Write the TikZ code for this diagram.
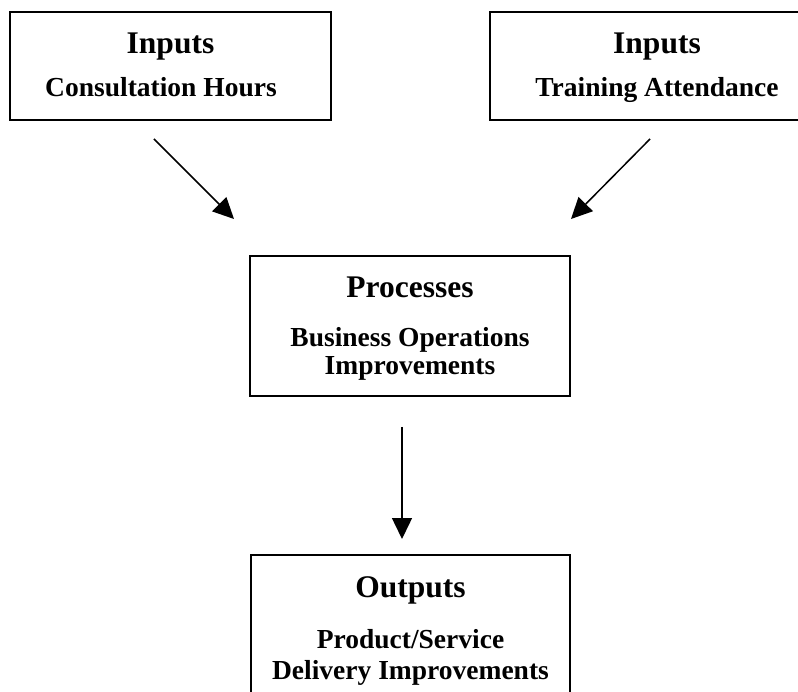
\documentclass[tikz,border=0pt]{standalone}
\usepackage{fontspec}
\setmainfont{Liberation Serif}
\usetikzlibrary{arrows.meta}
\begin{document}
\begin{tikzpicture}[x=1pt,y=-1pt,
  box/.style={draw,line width=1.7pt,rectangle,inner sep=0pt},
  ttl/.style={font=\fontsize{31.5}{36}\selectfont\bfseries,anchor=base,inner sep=0pt},
  sub/.style={font=\fontsize{27.5}{30}\selectfont\bfseries,anchor=base,inner sep=0pt},
  arr/.style={line width=1.5pt,-{Triangle[length=21pt,width=20pt]}}]
\useasboundingbox (0,0) rectangle (798,692);
\clip (0,0) rectangle (798,692);
% boxes
\node[box,minimum width=321pt,minimum height=108pt] (in1) at (170.5,66) {};
\node[box,minimum width=334pt,minimum height=108pt] (in2) at (657,66) {};
\node[box,minimum width=320pt,minimum height=140pt] (proc) at (410,326) {};
\node[box,minimum width=319pt,minimum height=160pt] (out) at (410.5,635) {};
% texts
\node[ttl] (in1t) at (170.5,54) {Inputs};
\node[sub] (in1s) at (161,97) {Consultation Hours};
\node[ttl] (in2t) at (657,54) {Inputs};
\node[sub] (in2s) at (657,97) {Training Attendance};
\node[ttl] (proct) at (410,298) {Processes};
\node[sub] (procs1) at (410,347) {Business Operations};
\node[sub] (procs2) at (410,375) {Improvements};
\node[ttl] (outt) at (410.5,597) {Outputs};
\node[sub] (outs1) at (410.5,648) {Product/Service};
\node[sub] (outs2) at (410.5,679) {Delivery Improvements};
% connectors
\coordinate (a1s) at (154,139);
\coordinate (a1e) at (234,219);
\coordinate (a2s) at (650,139);
\coordinate (a2e) at (571,219);
\coordinate (a3s) at (402,427);
\coordinate (a3e) at (402,539);
\draw[arr] (a1s) -- (a1e);
\draw[arr] (a2s) -- (a2e);
\draw[arr] (a3s) -- (a3e);
\end{tikzpicture}
\end{document}
